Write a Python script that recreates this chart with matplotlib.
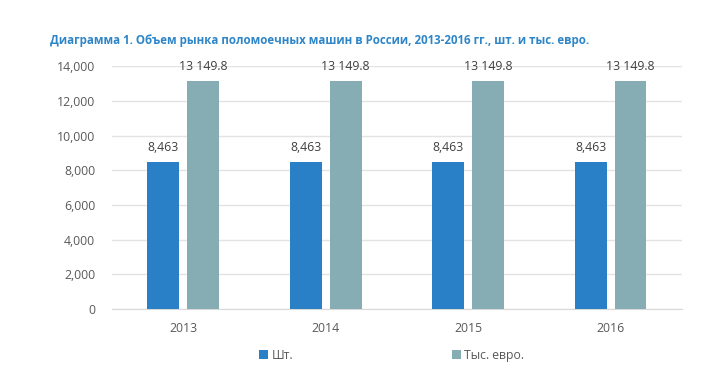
import numpy as np
import matplotlib
matplotlib.use("Agg")
import matplotlib.pyplot as plt

plt.rcParams['font.family'] = ['Open Sans', 'DejaVu Sans']

years = ['2013', '2014', '2015', '2016']
units = [8463, 8463, 8463, 8463]
euro_k = [13149.8, 13149.8, 13149.8, 13149.8]
units_labels = ['8,463'] * 4
euro_labels = ['13 149.8'] * 4
title = 'Диаграмма 1. Объем рынка поломоечных машин в России, 2013-2016 гг., шт. и тыс. евро.'


def plot():
    fig = plt.figure(figsize=(7.15, 3.78), dpi=100)
    ax = fig.add_axes([0.1566, 0.1825, 0.797, 0.6425])

    x = np.arange(len(years))
    w = 0.224
    off = 0.14
    b1 = ax.bar(x - off, units, w, color='#2A80C6', label='Шт.', zorder=3)
    b2 = ax.bar(x + off, euro_k, w, color='#86ADB4', label='Тыс. евро.', zorder=3)

    # data labels above bars
    for rect, lab in zip(b1, units_labels):
        ax.text(rect.get_x() + rect.get_width() / 2, rect.get_height() + 450, lab,
                ha='center', va='bottom', fontsize=8.8, color='#404040')
    for rect, lab in zip(b2, euro_labels):
        ax.text(rect.get_x() + rect.get_width() / 2, rect.get_height() + 450, lab,
                ha='center', va='bottom', fontsize=8.8, color='#404040')

    ax.set_xlim(-0.5, 3.5)
    ax.set_ylim(0, 14000)
    ax.set_yticks(range(0, 14001, 2000))
    ax.set_yticklabels([f'{v:,}' for v in range(0, 14001, 2000)])
    ax.set_xticks(x)
    ax.set_xticklabels(years)
    ax.tick_params(length=0, labelsize=8.8, colors='#595959')
    ax.tick_params(axis='x', pad=9)
    ax.tick_params(axis='y', pad=12)
    ax.grid(axis='y', color='#E3E3E3', linewidth=1, zorder=0)
    for s in ['top', 'right', 'left']:
        ax.spines[s].set_visible(False)
    ax.spines['bottom'].set_color('#D9D9D9')

    fig.text(0.07, 0.883, title, fontsize=8.3, fontweight='bold', color='#2E86C8')

    fig.legend(handles=[b1, b2], loc='center', bbox_to_anchor=(0.548, 0.06), ncol=2,
               frameon=False, fontsize=8.8, handlelength=0.7, handleheight=0.7,
               columnspacing=13, handletextpad=0.3, labelcolor='#595959')

    fig.savefig('out.png', dpi=100)


def main():
    plot()


if __name__ == "__main__":
    main()
